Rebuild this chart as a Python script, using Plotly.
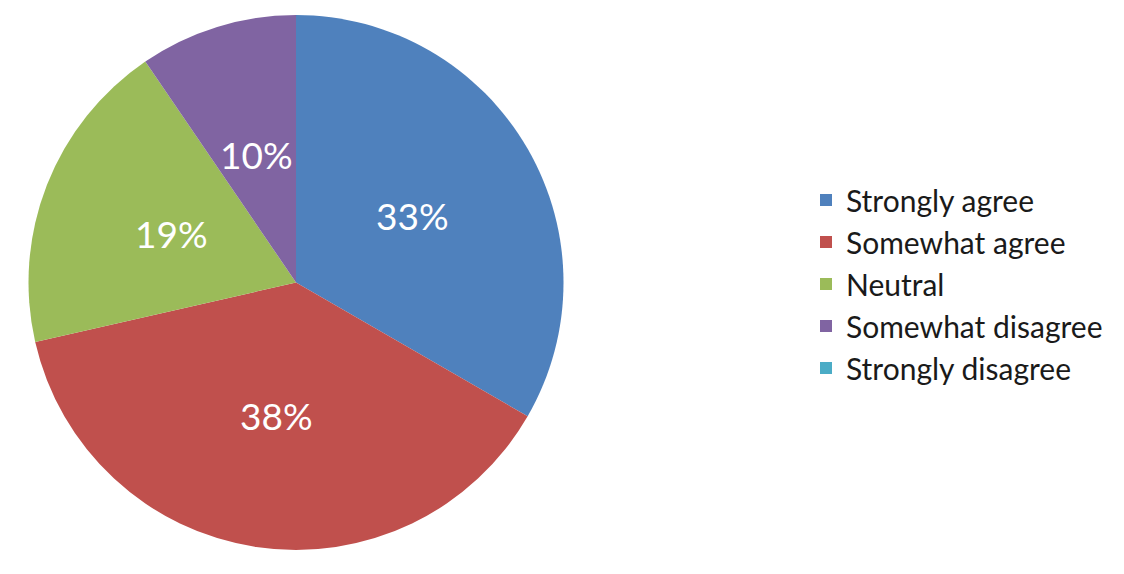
import numpy as np
import plotly.graph_objects as go

categories = ["Strongly agree", "Somewhat agree", "Neutral", "Somewhat disagree", "Strongly disagree"]
counts = [7, 8, 4, 2, 0]
colors = ["#4F81BD", "#C0504D", "#9BBB59", "#8064A2", "#4BACC6"]

W, H = 1124, 574
# pie box in page pixels (page has an 8px body margin)
px0, px1 = 20, 556
py0, py1 = 7, 542

fig = go.Figure(go.Pie(
    labels=categories,
    values=counts,
    sort=False,
    direction="clockwise",
    rotation=0,
    marker=dict(colors=colors, line=dict(width=0)),
    textinfo="none",
    hoverinfo="label+percent",
    domain=dict(x=[px0 / W, px1 / W], y=[1 - py1 / H, 1 - py0 / H]),
))

# percentage labels at half radius on each slice bisector (derived from data)
vals = np.array(counts, dtype=float)
frac = vals / vals.sum()
cum = np.cumsum(frac)
mid = (cum - frac / 2) * 2 * np.pi
cx = (px0 + px1) / 2
cy = (py0 + py1) / 2
R = (px1 - px0) / 2
for f, a in zip(frac, mid):
    if f <= 0:
        continue
    x = cx + 0.5 * R * np.sin(a)
    y = cy - 0.5 * R * np.cos(a)
    fig.add_annotation(
        x=x / W, y=1 - y / H, xref="paper", yref="paper",
        text=f"{f:.0%}", showarrow=False,
        font=dict(family="Lato", size=37, color="white"),
        xanchor="center", yanchor="middle",
    )

fig.update_layout(
    width=W, height=H,
    margin=dict(l=0, r=0, t=0, b=0),
    paper_bgcolor="white",
    plot_bgcolor="white",
    showlegend=True,
    legend=dict(
        x=798 / W, y=1 - 166 / H, xanchor="left", yanchor="top",
        font=dict(family="Lato", size=30, color="#1a1a1a"),
        traceorder="normal",
    ),
)

fig.write_html("out.html")
